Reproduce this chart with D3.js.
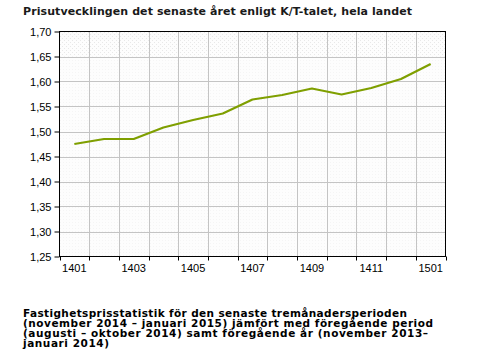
<!DOCTYPE html>
<html><head><meta charset="utf-8">
<script src="https://cdn.jsdelivr.net/npm/d3@7"></script>
<style>body{margin:0;background:#fff}svg{display:block}</style>
</head><body>
<svg id="c" width="480" height="357"></svg>
<script>
const months = ["1401","1402","1403","1404","1405","1406","1407","1408","1409","1410","1411","1412","1501"];
const values = [1.475,1.485,1.485,1.508,1.523,1.536,1.564,1.573,1.586,1.574,1.587,1.605,1.635];
const yTicks = [1.25,1.30,1.35,1.40,1.45,1.50,1.55,1.60,1.65,1.70];
const xLabels = ["1401","1403","1405","1407","1409","1411","1501"];
const title = "Prisutvecklingen det senaste året enligt K/T-talet, hela landet";
const footnote = ["Fastighetsprisstatistik för den senaste tremånadersperioden",
  "(november 2014 – januari 2015) jämfört med föregående period",
  "(augusti – oktober 2014) samt föregående år (november 2013–",
  "januari 2014)"];

const svg = d3.select("#c");
const L=59.5, R=445.5, T=31.5, B=256.5;
const x = d3.scaleBand().domain(months).range([L,R]).padding(0);
const y = d3.scaleLinear().domain([1.25,1.70]).range([B,T]);

const defs = svg.append("defs");
const p1 = defs.append("pattern").attr("id","dots").attr("width",3).attr("height",3).attr("patternUnits","userSpaceOnUse");
p1.append("rect").attr("width",3).attr("height",3).attr("fill","#fdfdfd");
p1.append("rect").attr("x",0).attr("y",0).attr("width",1).attr("height",1).attr("fill","#f5f5f5");
const p2 = defs.append("pattern").attr("id","hatch").attr("width",4).attr("height",4).attr("patternUnits","userSpaceOnUse");
p2.append("rect").attr("width",4).attr("height",4).attr("fill","#fdfdfd");
p2.append("rect").attr("width",1).attr("height",1).attr("fill","#e8e8e8");
p2.append("rect").attr("x",2).attr("y",2).attr("width",1).attr("height",1).attr("fill","#e8e8e8");

svg.append("rect").attr("x",L).attr("y",T).attr("width",R-L).attr("height",B-T).attr("fill","url(#dots)");
svg.append("rect").attr("x",L).attr("y",y(1.70)).attr("width",R-L).attr("height",y(1.65)-y(1.70)).attr("fill","url(#hatch)");

// grid
svg.append("g").selectAll("line").data(yTicks.slice(1,-1)).join("line")
  .attr("x1",L).attr("x2",R).attr("y1",d=>Math.round(y(d))+0.5).attr("y2",d=>Math.round(y(d))+0.5)
  .attr("stroke","#c4c4c4").attr("stroke-width",1);
svg.append("g").selectAll("line").data(months.slice(1)).join("line")
  .attr("x1",d=>Math.round(x(d))+0.5).attr("x2",d=>Math.round(x(d))+0.5).attr("y1",T).attr("y2",B)
  .attr("stroke","#c4c4c4").attr("stroke-width",1);

// frame
svg.append("rect").attr("x",L).attr("y",T).attr("width",R-L).attr("height",B-T)
  .attr("fill","none").attr("stroke","#000").attr("stroke-width",1);

// y axis
const yAxis = d3.axisLeft(y).tickValues(yTicks).tickSize(5).tickPadding(3)
  .tickFormat(d=>d3.format(".2f")(d).replace(".",","));
const gy = svg.append("g").attr("transform",`translate(${L},0)`).call(yAxis);
gy.select(".domain").remove();
gy.selectAll("text").attr("font-family","Liberation Sans, Arial, sans-serif").attr("font-size","11px").attr("fill","#000");

// x axis
const bounds = months.map(m=>x(m)).concat([R]);
const gx = svg.append("g");
gx.selectAll("line").data(bounds).join("line")
  .attr("x1",d=>Math.round(d)+0.5).attr("x2",d=>Math.round(d)+0.5).attr("y1",B).attr("y2",B+4).attr("stroke","#000");
gx.selectAll("text").data(xLabels).join("text")
  .attr("x",d=>x(d)+x.bandwidth()/2).attr("y",B+15.5).attr("text-anchor","middle")
  .attr("font-family","Liberation Sans, Arial, sans-serif").attr("font-size","11px").text(d=>d);

// line
const line = d3.line().x((d,i)=>x(months[i])+x.bandwidth()/2).y(d=>y(d));
svg.append("path").datum(values).attr("d",line).attr("fill","none")
  .attr("stroke","#7f9f00").attr("stroke-width",2.2).attr("stroke-linejoin","round");

// title
svg.append("text").attr("x",23).attr("y",14.5).attr("font-family","DejaVu Sans, Verdana, sans-serif")
  .attr("font-weight","bold").attr("font-size","11px").attr("fill","#1a1a1a")
  .attr("textLength",389).attr("lengthAdjust","spacing").text(title);

// footnote
const fw = [384, 410, 405, 86];
svg.append("g").selectAll("text").data(footnote).join("text")
  .attr("x",23).attr("y",(d,i)=>316.5+i*10)
  .attr("font-family","DejaVu Sans, Verdana, sans-serif").attr("font-weight","bold").attr("font-size","10.5px")
  .attr("textLength",(d,i)=>fw[i]).attr("lengthAdjust","spacing")
  .attr("fill","#000").text(d=>d);
</script>
</body></html>
